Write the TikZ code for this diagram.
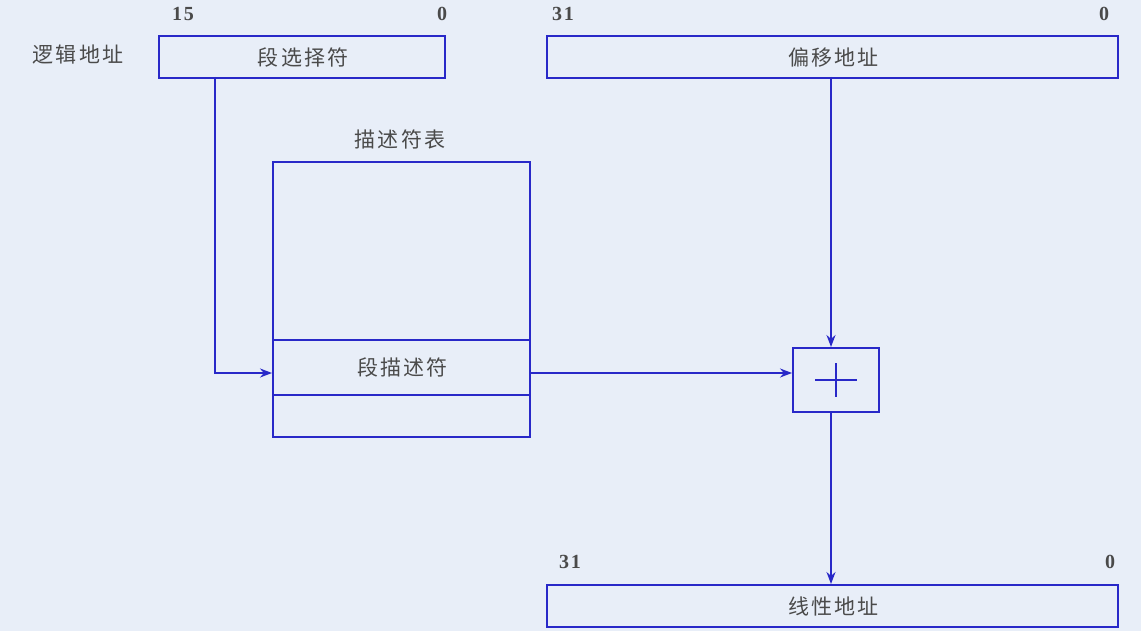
\documentclass[tikz,border=0pt]{standalone}
\usepackage{fontspec}
\newfontfamily\cjk[LetterSpace=10]{Noto Sans CJK SC}
\newfontfamily\numfont[LetterSpace=8]{Liberation Serif}
\usetikzlibrary{arrows.meta,calc}
\definecolor{bg}{HTML}{E8EEF8}
\definecolor{ln}{HTML}{2828C8}
\definecolor{tx}{HTML}{4A4A4A}
\tikzset{
  box/.style={draw=ln, line width=2.2pt, inner sep=0pt, anchor=north west},
  lab/.style={text=tx, font=\cjk\fontsize{21}{21}\selectfont, inner sep=0pt},
  num/.style={text=tx, font=\numfont\bfseries\fontsize{20}{20}\selectfont, inner sep=0pt},
  conn/.style={draw=ln, line width=1.8pt, -{Stealth[length=12pt,width=9pt]}},
}
\begin{document}
\begin{tikzpicture}[x=1pt,y=-1pt]
\useasboundingbox[fill=bg] (0,0) rectangle (1141,631);
% top left
\node[lab] (logic) at (78,55) {逻辑地址};
\node[box, minimum width=286pt, minimum height=42pt] (sel) at (158,35) {};
\node[lab] at ($(sel.center)+(1,0)$) {段选择符};
\node[num] (n15) at (183,14) {15};
\node[num] (n0a) at (442,14) {0};
% offset
\node[box, minimum width=571pt, minimum height=42pt] (off) at (546,35) {};
\node[lab] at ($(off.center)+(1,0)$) {偏移地址};
\node[num] (n31a) at (563,14) {31};
\node[num] (n0b) at (1104,14) {0};
% descriptor table
\node[lab] (dtl) at (400,139) {描述符表};
\node[box, minimum width=257pt, minimum height=275pt] (tab) at (272,161) {};
\node[box, minimum width=257pt, minimum height=55pt] (desc) at (272,339) {};
\node[lab] at ($(desc.center)+(1,0)$) {段描述符};
% plus box
\node[box, minimum width=86pt, minimum height=64pt] (plus) at (792,347) {};
\draw[draw=ln, line width=2.6pt] ($(plus.center)+(-21,0)$) -- ($(plus.center)+(21,0)$);
\draw[draw=ln, line width=2.6pt] ($(plus.center)+(0,-17)$) -- ($(plus.center)+(0,17)$);
% linear
\node[box, minimum width=571pt, minimum height=42pt] (lin) at (546,584) {};
\node[lab] at ($(lin.center)+(1,0)$) {线性地址};
\node[num] (n31b) at (570,562) {31};
\node[num] (n0c) at (1110,562) {0};
% connectors
\coordinate (c1) at (215,77);
\coordinate (r1) at (272,373);
\coordinate (r2) at (529,373);
\coordinate (v1) at (831,77);
\coordinate (v2) at (831,411);
\draw[conn] (c1) |- (r1);
\draw[conn] (r2) -- (r2 -| plus.west);
\draw[conn] (v1) -- (v1 |- plus.north);
\draw[conn] (v2) -- (v2 |- lin.north);
\end{tikzpicture}
\end{document}
